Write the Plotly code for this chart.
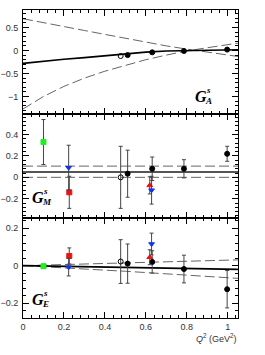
import plotly.graph_objects as go

# ---------------- data ----------------
# fit curves
curve_q = [0.0, 0.1, 0.2, 0.3, 0.4, 0.5, 0.6, 0.7, 0.8, 0.9, 1.0, 1.05]
ga_fit = [-0.28, -0.23, -0.19, -0.155, -0.11, -0.07, -0.035, -0.01, 0.0, 0.01, 0.015, 0.017]
ga_up = [0.69, 0.6, 0.52, 0.435, 0.35, 0.265, 0.18, 0.1, 0.03, -0.04, -0.10, -0.13]
ga_lo = [-1.27, -1.0, -0.78, -0.6, -0.45, -0.32, -0.2, -0.1, -0.01, 0.06, 0.13, 0.16]

line_q = [0.0, 1.05]
gm_fit = [0.05, 0.05]
gm_up = [0.105, 0.105]
gm_lo = [0.0, 0.0]

ge_q = [0.0, 0.5, 1.05]
ge_fit = [0.0, -0.01, -0.02]
ge_up = [0.0, 0.015, 0.031]
ge_lo = [0.0, -0.03, -0.068]

# black filled points
blk_q = [0.511, 0.631, 0.786, 0.997]
blk_ga = [-0.10, -0.04, -0.01, 0.02]
blk_gm = [0.034, 0.08, 0.08, 0.22]
blk_gm_err = [0.22, 0.11, 0.085, 0.07]
blk_ge = [0.011, 0.02, -0.018, -0.126]
blk_ge_err = [0.105, 0.06, 0.074, 0.10]

# open circle
opn_q = [0.477]
opn_ga = [-0.12]
opn_gm = [0.0]
opn_gm_err = [0.29]
opn_ge = [0.022]
opn_ge_err = [0.117]

# green squares
grn_q = [0.10]
grn_gm = [0.33]
grn_gm_err = [0.21]
grn_ge = [-0.003]
grn_ge_err = [0.01]

# blue down triangles
blu_q = [0.223, 0.628]
blu_gm = [0.09, -0.12]
blu_gm_err = [0.21, 0.13]
blu_ge = [-0.008, 0.116]
blu_ge_err = [0.047, 0.058]

# red squares
rsq_q = [0.226]
rsq_gm = [-0.14]
rsq_gm_err = [0.15]
rsq_ge = [0.052]
rsq_ge_err = [0.043]

# red up triangles
rtr_q = [0.619]
rtr_gm = [-0.075]
rtr_gm_err = [0.08]
rtr_ge = [0.045]
rtr_ge_err = [0.04]

# ---------------- figure ----------------
fig = go.Figure()
DASH = "10px,4px"
DCOL = "#666666"


def line(x, y, xa, ya, color="black", width=1.5, dash="solid"):
    fig.add_trace(go.Scatter(x=x, y=y, xaxis=xa, yaxis=ya, mode="lines",
                             line=dict(color=color, width=width, dash=dash),
                             showlegend=False, hoverinfo="skip"))


def pts(x, y, err, xa, ya, symbol, color, lcolor=None, size=5):
    kw = {}
    if err is not None:
        kw["error_y"] = dict(type="data", array=err, visible=True,
                             color="#444444", thickness=1, width=2)
    fig.add_trace(go.Scatter(x=x, y=y, xaxis=xa, yaxis=ya, mode="markers",
                             marker=dict(symbol=symbol, color=color, size=size,
                                         line=dict(color=lcolor or color, width=1)),
                             showlegend=False, **kw))


# panel 1 (G_A)
line(curve_q, ga_up, "x", "y", DCOL, 1, DASH)
line(curve_q, ga_lo, "x", "y", DCOL, 1, DASH)
line(curve_q, ga_fit, "x", "y", "black", 1.6)
pts(opn_q, opn_ga, None, "x", "y", "circle-open", "black", size=5)
pts(blk_q, blk_ga, None, "x", "y", "circle", "black")

# panel 2 (G_M)
line(line_q, gm_up, "x2", "y2", DCOL, 1, DASH)
line(line_q, gm_lo, "x2", "y2", DCOL, 1, DASH)
line(line_q, gm_fit, "x2", "y2", "#555555", 2)
pts(grn_q, grn_gm, grn_gm_err, "x2", "y2", "square", "#22ee22")
pts(opn_q, opn_gm, opn_gm_err, "x2", "y2", "circle-open", "black", size=5)
pts(blk_q, blk_gm, blk_gm_err, "x2", "y2", "circle", "black")
pts(rsq_q, rsq_gm, rsq_gm_err, "x2", "y2", "square", "#ee1111")
pts(rtr_q, rtr_gm, rtr_gm_err, "x2", "y2", "triangle-up", "#ee1111")
pts(blu_q, blu_gm, blu_gm_err, "x2", "y2", "triangle-down", "#1133ee")

# panel 3 (G_E)
line(ge_q, ge_up, "x3", "y3", DCOL, 1, DASH)
line(ge_q, ge_lo, "x3", "y3", DCOL, 1, DASH)
line(ge_q, ge_fit, "x3", "y3", "black", 1.6)
pts(grn_q, grn_ge, grn_ge_err, "x3", "y3", "square", "#22ee22")
pts(opn_q, opn_ge, opn_ge_err, "x3", "y3", "circle-open", "black", size=5)
pts(blk_q, blk_ge, blk_ge_err, "x3", "y3", "circle", "black")
pts(rsq_q, rsq_ge, rsq_ge_err, "x3", "y3", "square", "#ee1111")
pts(rtr_q, rtr_ge, rtr_ge_err, "x3", "y3", "triangle-up", "#ee1111")
pts(blu_q, blu_ge, blu_ge_err, "x3", "y3", "triangle-down", "#1133ee")

TICKFONT = dict(family="Liberation Sans, Arial, sans-serif", size=9, color="#333333")


def xax(anchor, labels):
    return dict(range=[0, 1.05], anchor=anchor, showline=True, linecolor="black",
                linewidth=1, mirror="allticks", ticks="inside", ticklen=6,
                tickcolor="black", dtick=0.2, tick0=0, showgrid=False, zeroline=False,
                showticklabels=labels, tickfont=TICKFONT, automargin=False,
                minor=dict(ticks="inside", ticklen=3, dtick=0.04, tickcolor="black", showgrid=False))


def yax(rng, domain, dtick, mdtick, anchor):
    return dict(range=rng, domain=domain, anchor=anchor, showline=True, linecolor="black",
                linewidth=1, mirror="allticks", ticks="inside", ticklen=6,
                tickcolor="black", dtick=dtick, tick0=0, showgrid=False, zeroline=False,
                tickfont=TICKFONT, automargin=False, ticklabelstandoff=2,
                minor=dict(ticks="inside", ticklen=3, dtick=mdtick, tickcolor="black", showgrid=False))


# plot area pixels: x 23..238, y 10..318
L, R, T, B = 23, 27, 10, 37
PH = 355 - T - B
d3 = [0, 100 / PH]
d2 = [100 / PH, 204 / PH]
d1 = [204 / PH, 1]

fig.update_layout(
    width=265, height=355, margin=dict(l=L, r=R, t=T, b=B),
    paper_bgcolor="white", plot_bgcolor="white",
    xaxis=xax("y", False), xaxis2=xax("y2", False), xaxis3=xax("y3", True),
    yaxis=yax([-1.38, 0.88], d1, 0.5, 0.1, "x"),
    yaxis2=yax([-0.38, 0.592], d2, 0.2, 0.04, "x2"),
    yaxis3=yax([-0.28, 0.255], d3, 0.2, 0.04, "x3"),
)
fig.update_layout(xaxis_matches="x3", xaxis2_matches="x3")


def px2paper(px, py):
    return (px - L) / (265 - L - R), (355 - B - py) / PH


SERIF = "Liberation Serif, Times New Roman, serif"


def glabel(gx, gy, sub):
    x, y = px2paper(gx, gy)
    fig.add_annotation(x=x, y=y, xref="paper", yref="paper", text="<b><i>G</i></b>",
                       showarrow=False, xanchor="left", yanchor="middle",
                       font=dict(family=SERIF, size=16, color="black"))
    x, y = px2paper(gx + 11, gy - 6)
    fig.add_annotation(x=x, y=y, xref="paper", yref="paper", text="<b><i>s</i></b>",
                       showarrow=False, xanchor="left", yanchor="middle",
                       font=dict(family=SERIF, size=9, color="black"))
    x, y = px2paper(gx + 10, gy + 5)
    fig.add_annotation(x=x, y=y, xref="paper", yref="paper", text="<b><i>%s</i></b>" % sub,
                       showarrow=False, xanchor="left", yanchor="middle",
                       font=dict(family=SERIF, size=9, color="black"))


glabel(193, 96, "A")
glabel(30, 197, "M")
glabel(30, 299, "E")

x, y = px2paper(239, 338)
fig.add_annotation(x=x, y=y, xref="paper", yref="paper",
                   text="<i>Q</i><sup>2</sup> (GeV<sup>2</sup>)", showarrow=False,
                   xanchor="right", yanchor="middle",
                   font=dict(family="Liberation Sans, Arial, sans-serif", size=9, color="#333333"))

fig.write_html("out.html", config={"displayModeBar": False},
               post_script="document.body.style.margin='0';document.body.style.overflow='hidden';")
